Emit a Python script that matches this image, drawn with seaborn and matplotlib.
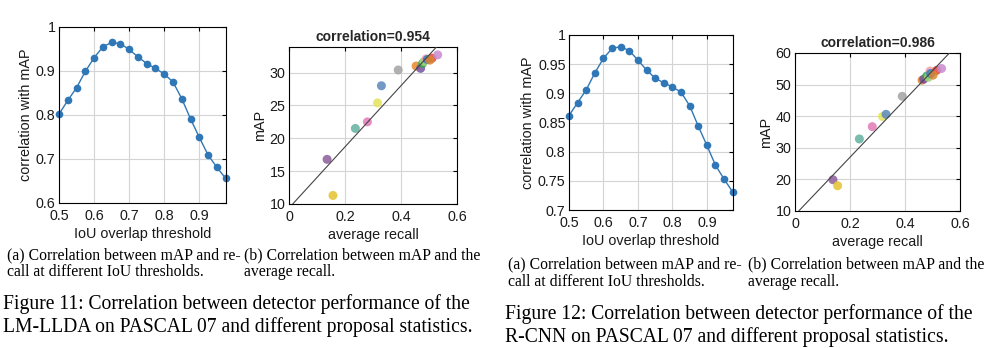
import numpy as np
import pandas as pd
import matplotlib
matplotlib.use("Agg")
import matplotlib.pyplot as plt
import seaborn as sns

# ---------------- data ----------------
iou_thresholds = [0.5, 0.525, 0.55, 0.575, 0.6, 0.625, 0.65, 0.675, 0.7, 0.725,
                  0.75, 0.775, 0.8, 0.825, 0.85, 0.875, 0.9, 0.925, 0.95, 0.975]
corr_lmllda = [0.802, 0.833, 0.862, 0.899, 0.930, 0.955, 0.965, 0.962, 0.949, 0.932,
               0.917, 0.906, 0.893, 0.875, 0.837, 0.791, 0.749, 0.709, 0.681, 0.656]
corr_rcnn = [0.862, 0.884, 0.906, 0.935, 0.960, 0.977, 0.980, 0.973, 0.957, 0.940,
             0.926, 0.918, 0.911, 0.902, 0.879, 0.844, 0.811, 0.777, 0.753, 0.731]

methods = ["M1", "M2", "M3", "M4", "M5", "M6", "M7", "M8", "M9", "M10",
           "M11", "M12", "M13", "M14", "M15", "M16"]
method_colors = ["#8c5d9c", "#e3c22f", "#63b19f", "#e27ab6", "#e6e35c", "#5a88bb",
                 "#a3a3a3", "#e8892b", "#7650a6", "#3ba64a", "#9fd47c", "#f2a0a4",
                 "#2f7ec0", "#e0463b", "#c98ad1", "#d9852f"]
avg_recall_lmllda = [0.136, 0.157, 0.237, 0.280, 0.316, 0.330, 0.390, 0.454, 0.470,
                     0.477, 0.482, 0.490, 0.494, 0.511, 0.531, 0.503]
map_lmllda = [16.8, 11.3, 21.5, 22.5, 25.4, 28.0, 30.4, 31.0, 30.65,
              31.4, 31.7, 32.1, 32.0, 32.2, 32.7, 31.9]
avg_recall_rcnn = [0.138, 0.155, 0.234, 0.281, 0.318, 0.331, 0.390, 0.462, 0.468,
                   0.479, 0.485, 0.491, 0.493, 0.515, 0.533, 0.502]
map_rcnn = [19.9, 18.0, 32.8, 36.7, 39.9, 40.6, 46.3, 51.4, 51.7,
            52.7, 52.3, 54.3, 53.5, 54.5, 55.1, 53.0]
corr_titles = ["correlation=0.954", "correlation=0.986"]

# ---------------- style ----------------
sns.set_theme(style="whitegrid")
plt.rcParams["font.family"] = ["Liberation Sans", "DejaVu Sans"]
plt.rcParams.update({
    "axes.edgecolor": "black", "axes.linewidth": 0.8,
    "grid.color": "#d4d4d4", "grid.linewidth": 0.8,
    "xtick.direction": "in", "ytick.direction": "in",
    "xtick.top": True, "ytick.right": True,
    "xtick.major.size": 3, "ytick.major.size": 3,
    "xtick.major.width": 0.8, "ytick.major.width": 0.8,
    "xtick.color": "black", "ytick.color": "black",
    "xtick.labelcolor": "#1a1a1a", "ytick.labelcolor": "#1a1a1a",
    "xtick.labelsize": 10.3, "ytick.labelsize": 10.3,
    "xtick.major.pad": 4, "ytick.major.pad": 2.5,
})

W, H = 987, 348
fig = plt.figure(figsize=(W / 100, H / 100), dpi=100)
fig.patch.set_facecolor("white")


def px_axes(x0, y0, x1, y1):
    return fig.add_axes([x0 / W, 1 - y1 / H, (x1 - x0) / W, (y1 - y0) / H])


line_color = "#2f77b6"
label_size = 10.4


def corr_plot(ax, yvals, ylim, yticks, ylabels):
    df = pd.DataFrame({"iou": iou_thresholds, "corr": yvals})
    sns.lineplot(data=df, x="iou", y="corr", ax=ax, color=line_color, lw=1.0,
                 marker="o", markersize=5.5, markeredgewidth=0, markeredgecolor=line_color,
                 clip_on=False)
    ax.set_xlim(0.5, 0.976)
    ax.set_ylim(*ylim)
    ax.set_xticks([0.5, 0.6, 0.7, 0.8, 0.9])
    ax.set_xticklabels(["0.5", "0.6", "0.7", "0.8", "0.9"])
    ax.set_yticks(yticks)
    ax.set_yticklabels(ylabels)
    ax.set_xlabel("IoU overlap threshold", fontsize=label_size, labelpad=3, color="#1a1a1a")
    ax.set_ylabel("correlation with mAP", fontsize=label_size, labelpad=2, color="#1a1a1a")
    for s in ax.spines.values():
        s.set_visible(True)
        s.set_color("black")


def scatter_plot(ax, xs, ys, ylim, yticks, title):
    df = pd.DataFrame({"recall": xs, "mAP": ys, "method": methods})
    sns.scatterplot(data=df, x="recall", y="mAP", hue="method",
                    palette=dict(zip(methods, method_colors)), ax=ax,
                    s=42, alpha=0.85, linewidth=0, legend=False, zorder=3)
    m, b = np.polyfit(xs, ys, 1)
    ax.axline((0, b), slope=m, color="#444444", lw=0.8, zorder=4)
    ax.set_xlim(0, 0.6)
    ax.set_ylim(*ylim)
    ax.set_xticks([0, 0.2, 0.4, 0.6])
    ax.set_xticklabels(["0", "0.2", "0.4", "0.6"])
    ax.set_yticks(yticks)
    ax.set_yticklabels([str(t) for t in yticks])
    ax.set_xlabel("average recall", fontsize=label_size, labelpad=3, color="#1a1a1a")
    ax.set_ylabel("mAP", fontsize=label_size, labelpad=2, color="#1a1a1a")
    ax.set_title(title, fontsize=10, fontweight="bold", pad=4)
    for s in ax.spines.values():
        s.set_visible(True)
        s.set_color("black")


ax1 = px_axes(59, 27, 226, 203)
corr_plot(ax1, corr_lmllda, (0.6, 1.0), [0.6, 0.7, 0.8, 0.9, 1.0],
          ["0.6", "0.7", "0.8", "0.9", "1"])
ax2 = px_axes(289, 47, 457, 204)
scatter_plot(ax2, avg_recall_lmllda, map_lmllda, (10, 33.9), [10, 15, 20, 25, 30],
             corr_titles[0])
ax3 = px_axes(569, 35, 733, 210)
corr_plot(ax3, corr_rcnn, (0.7, 1.0), [0.7, 0.75, 0.8, 0.85, 0.9, 0.95, 1.0],
          ["0.7", "0.75", "0.8", "0.85", "0.9", "0.95", "1"])
ax4 = px_axes(795, 53, 960, 211)
scatter_plot(ax4, avg_recall_rcnn, map_rcnn, (10, 60), [10, 20, 30, 40, 50, 60],
             corr_titles[1])

# ---------------- captions ----------------
serif = ["Liberation Serif", "DejaVu Serif"]


def ftext(x, y, s, size):
    fig.text(x / W, 1 - y / H, s, fontsize=size, family=serif, va="center",
             ha="left", color="black")


sub_size = 11.3
fig_size = 14.1
ftext(7, 255, "(a) Correlation between mAP and re-", sub_size)
ftext(7, 272, "call at different IoU thresholds.", sub_size)
ftext(244, 255, "(b) Correlation between mAP and the", sub_size)
ftext(244, 272, "average recall.", sub_size)
ftext(3, 304, "Figure 11: Correlation between detector performance of the", fig_size)
ftext(3, 327, "LM-LLDA on PASCAL 07 and different proposal statistics.", fig_size)

ftext(508, 264, "(a) Correlation between mAP and re-", sub_size)
ftext(508, 282, "call at different IoU thresholds.", sub_size)
ftext(748, 264, "(b) Correlation between mAP and the", sub_size)
ftext(748, 282, "average recall.", sub_size)
ftext(505, 314, "Figure 12: Correlation between detector performance of the", fig_size)
ftext(505, 337, "R-CNN on PASCAL 07 and different proposal statistics.", fig_size)

fig.savefig("out.png", dpi=100, facecolor="white")
